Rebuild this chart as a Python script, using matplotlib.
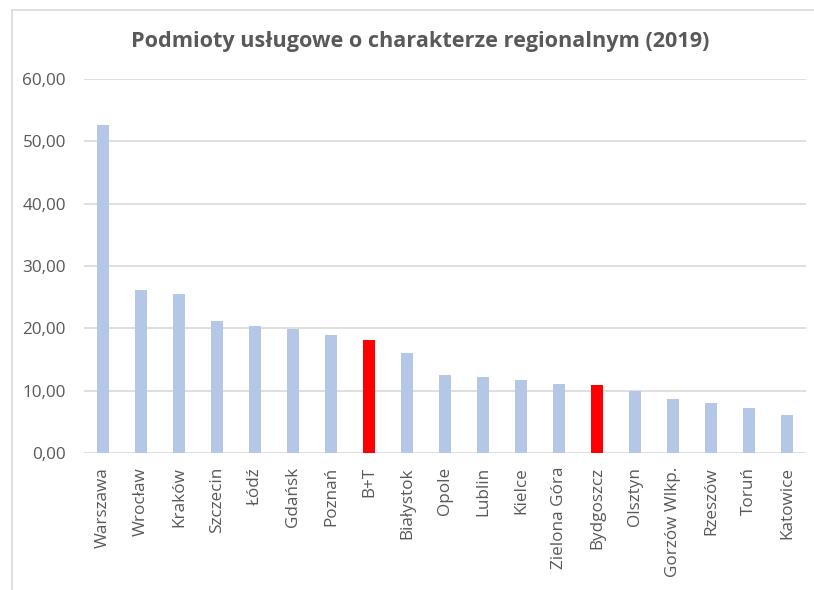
import numpy as np
import matplotlib
matplotlib.use('Agg')
import matplotlib.pyplot as plt
from matplotlib.lines import Line2D

# Data
cities = ['Warszawa', 'Wrocław', 'Kraków', 'Szczecin', 'Łódź', 'Gdańsk', 'Poznań', 'B+T',
          'Białystok', 'Opole', 'Lublin', 'Kielce', 'Zielona Góra', 'Bydgoszcz', 'Olsztyn',
          'Gorzów Wlkp.', 'Rzeszów', 'Toruń', 'Katowice']
values = [52.6, 26.1, 25.5, 21.2, 20.4, 19.9, 19.0, 18.2,
          16.1, 12.5, 12.2, 11.7, 11.05, 10.95, 9.9,
          8.65, 8.1, 7.2, 6.1]
highlight = ['B+T', 'Bydgoszcz']
y_ticks = [0, 10, 20, 30, 40, 50, 60]

plt.rcParams['font.family'] = ['Open Sans', 'DejaVu Sans']

W, H = 814, 590
fig = plt.figure(figsize=(W / 100, H / 100), dpi=100)
ax = fig.add_axes([84 / W, 1 - 453 / H, (806 - 84) / W, (453 - 79) / H])

colors = ['#FF0000' if c in highlight else '#B4C7E7' for c in cities]
x = np.arange(len(cities))
ax.bar(x, values, width=0.32, color=colors, zorder=3)

ax.set_xlim(-0.5, len(cities) - 0.5)
ax.set_ylim(0, 60)
ax.set_yticks(y_ticks)
ax.set_yticklabels(['%d,00' % t for t in y_ticks])
ax.set_xticks(x)
ax.set_xticklabels(cities, rotation=90)
ax.tick_params(axis='both', length=0, labelsize=12.3, labelcolor='#595959')
ax.tick_params(axis='y', pad=13)
ax.tick_params(axis='x', pad=10)
ax.grid(axis='y', color='#D9D9D9', linewidth=1.2, zorder=0)
for s in ax.spines.values():
    s.set_visible(False)

fig.text(420 / W, 1 - 42 / H, 'Podmioty usługowe o charakterze regionalnym (2019)',
         ha='center', va='center', fontsize=15.6, fontweight='bold', color='#595959')

# partial chart frame, as in the cropped reference
fig.add_artist(Line2D([12 / W, 12 / W], [0, 1 - 10 / H], color='#D9D9D9', linewidth=1.2))
fig.add_artist(Line2D([12 / W, 1], [1 - 10 / H, 1 - 10 / H], color='#D9D9D9', linewidth=1.2))

fig.savefig('out.png', dpi=100, facecolor='white')
